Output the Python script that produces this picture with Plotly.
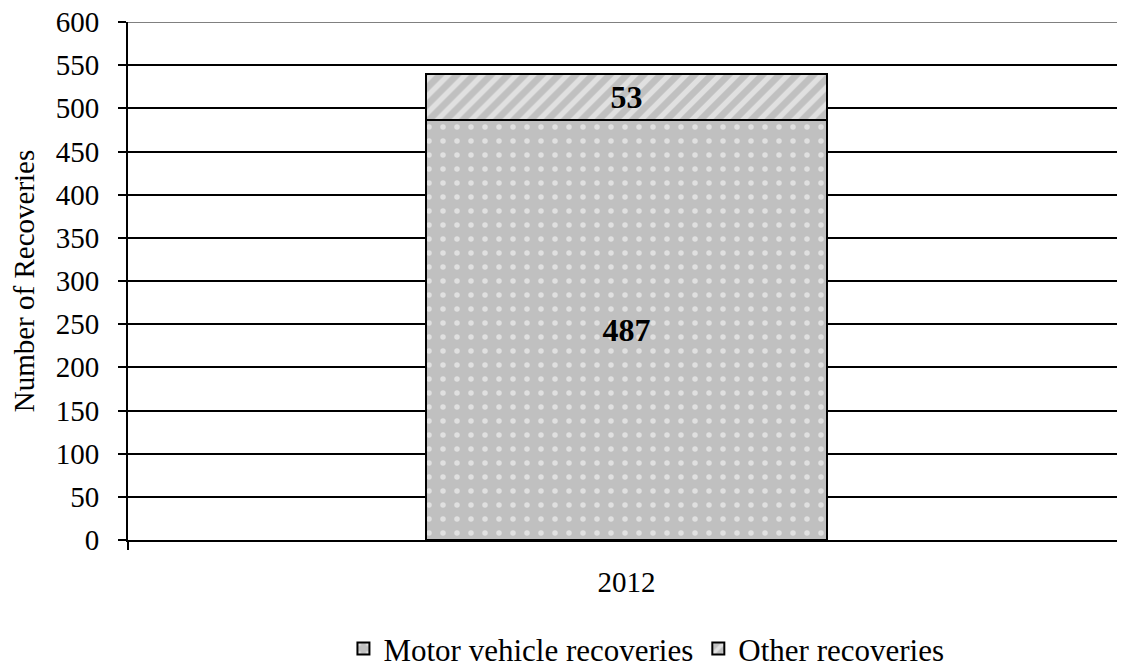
import plotly.graph_objects as go

categories = ["2012"]
motor_vehicle = [487]
other = [53]
series_names = ["Motor vehicle recoveries", "Other recoveries"]
y_ticks = [0, 50, 100, 150, 200, 250, 300, 350, 400, 450, 500, 550, 600]

FONT = "Liberation Serif, Times New Roman, serif"
FS = 29

fig = go.Figure()
fig.add_trace(go.Bar(
    x=categories, y=motor_vehicle, name=series_names[0],
    text=[str(v) for v in motor_vehicle], textposition="inside", insidetextanchor="middle",
    textfont=dict(family=FONT, size=32, color="black", weight="bold"),
    marker=dict(color="#c0c0c0", line=dict(color="black", width=2),
                pattern=dict(shape=".", fgcolor="white", bgcolor="#c0c0c0", size=14, solidity=0.12)),
))
fig.add_trace(go.Bar(
    x=categories, y=other, name=series_names[1],
    text=[str(v) for v in other], textposition="inside", insidetextanchor="middle",
    textfont=dict(family=FONT, size=32, color="black", weight="bold"),
    marker=dict(color="#c0c0c0", line=dict(color="black", width=2),
                pattern=dict(shape="/", fgcolor="white", bgcolor="#c0c0c0", size=12, solidity=0.45)),
))

# page body has an 8px default margin, so the figure is sized to fit the window
fig.update_layout(
    barmode="stack",
    bargap=0.597,
    width=1117, height=656,
    margin=dict(l=120, r=0, t=14, b=124, autoexpand=False),
    paper_bgcolor="white", plot_bgcolor="white",
    font=dict(family=FONT, size=FS, color="black"),
    uniformtext=dict(minsize=10, mode="show"),
    legend=dict(orientation="h", x=0.52, xanchor="center", y=-0.21, yanchor="middle",
                font=dict(family=FONT, size=31), traceorder="normal",
                itemsizing="constant", itemwidth=30),
    showlegend=True,
)
fig.update_xaxes(
    type="category", range=[-0.5, 0.5], automargin=False,
    showline=True, linecolor="black", linewidth=2,
    ticks="outside", tickson="boundaries", ticklen=8, tickcolor="black", tickwidth=2,
    ticklabelstandoff=15,
    showgrid=False,
    tickfont=dict(family=FONT, size=FS),
)
fig.update_yaxes(
    range=[0, 600], tickvals=y_ticks, automargin=False,
    showline=True, linecolor="black", linewidth=2,
    ticks="outside", ticklen=8, tickcolor="black", tickwidth=2,
    ticklabelstandoff=13, ticklabeloverflow="allow",
    showgrid=True, gridcolor="black", gridwidth=2,
    zeroline=False,
    title=dict(text="Number of Recoveries", font=dict(family=FONT, size=FS), standoff=24),
    tickfont=dict(family=FONT, size=FS),
)
fig.add_shape(type="line", xref="paper", yref="y", x0=0, x1=1, y0=600, y1=600,
              line=dict(color="#808080", width=2), layer="above")

fig.write_html("out.html")
